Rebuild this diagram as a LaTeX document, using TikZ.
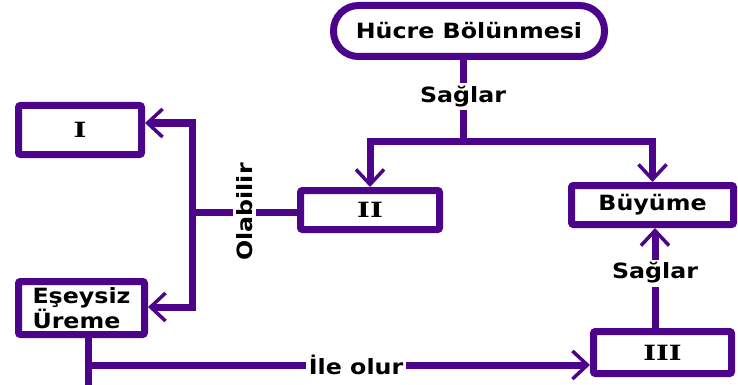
\documentclass[tikz,border=0pt]{standalone}
\usepackage{fontspec}
\newfontfamily\vfont[FakeStretch=1.13]{DejaVu Sans}
\newfontfamily\rfont[FakeStretch=1.3]{DejaVu Serif}
\usetikzlibrary{arrows.meta}
\definecolor{pur}{RGB}{76,4,138}
\begin{document}
\begin{tikzpicture}[x=1pt,y=-1pt,
  box/.style={draw=pur,line width=7pt,fill=white,inner sep=0pt,rounded corners=2pt,font=\vfont\bfseries\fontsize{21}{25}\selectfont},
  rom/.style={box,font=\rfont\bfseries\fontsize{21}{22}\selectfont},
  lbl/.style={fill=white,inner sep=3pt,font=\vfont\bfseries\fontsize{21}{22}\selectfont},
  ln/.style={draw=pur,line width=7pt},
  arr/.style={ln,-{Straight Barb[length=15pt,width=28pt,line width=3.5pt]}},
]
\useasboundingbox (0,0) rectangle (738,385);
\fill[white] (0,0) rectangle (738,385);

\node[box,minimum width=271pt,minimum height=51pt,rounded corners=25pt] (H) at (469,31) {Hücre Bölünmesi};
\node[rom,minimum width=123pt,minimum height=49pt] (I) at (80,130) {I};
\node[box,minimum width=126pt,minimum height=53pt,align=left] (E) at (81.5,308) {Eşeysiz\\Üreme};
\node[rom,minimum width=139pt,minimum height=39pt] (II) at (370,210) {II};
\node[box,minimum width=162pt,minimum height=39pt] (B) at (652.5,205) {Büyüme};
\node[rom,minimum width=138pt,minimum height=42pt] (III) at (662.5,352.5) {III};

\coordinate (j) at (463,141);
\draw[ln] (H.south -| j) -- node[lbl,pos=0.45]{Sağlar} (j);
\draw[arr] (j) -| (II.north);
\draw[arr] (j) -| (B.north);

\coordinate (x655) at (655,0);
\draw[arr] (III.north -| x655) -- node[lbl,pos=0.55]{Sağlar} (B.south -| x655);

\coordinate (k) at (192,212);
\coordinate (ka) at (192,123);
\coordinate (kb) at (192,307);
\draw[ln] (II.west |- k) -- node[lbl,rotate=90,pos=0.5]{Olabilir} (k);
\draw[arr] (k) -- (ka) -- (ka -| I.east);
\draw[arr] (k) -- (kb) -- (kb -| E.east);

\coordinate (ea) at (88,365);
\coordinate (eb) at (88,385);
\draw[ln] (E.south -| ea) -- (eb);
\draw[arr] (ea) -- node[lbl,pos=0.534]{İle olur} (ea -| III.west);
\end{tikzpicture}
\end{document}
